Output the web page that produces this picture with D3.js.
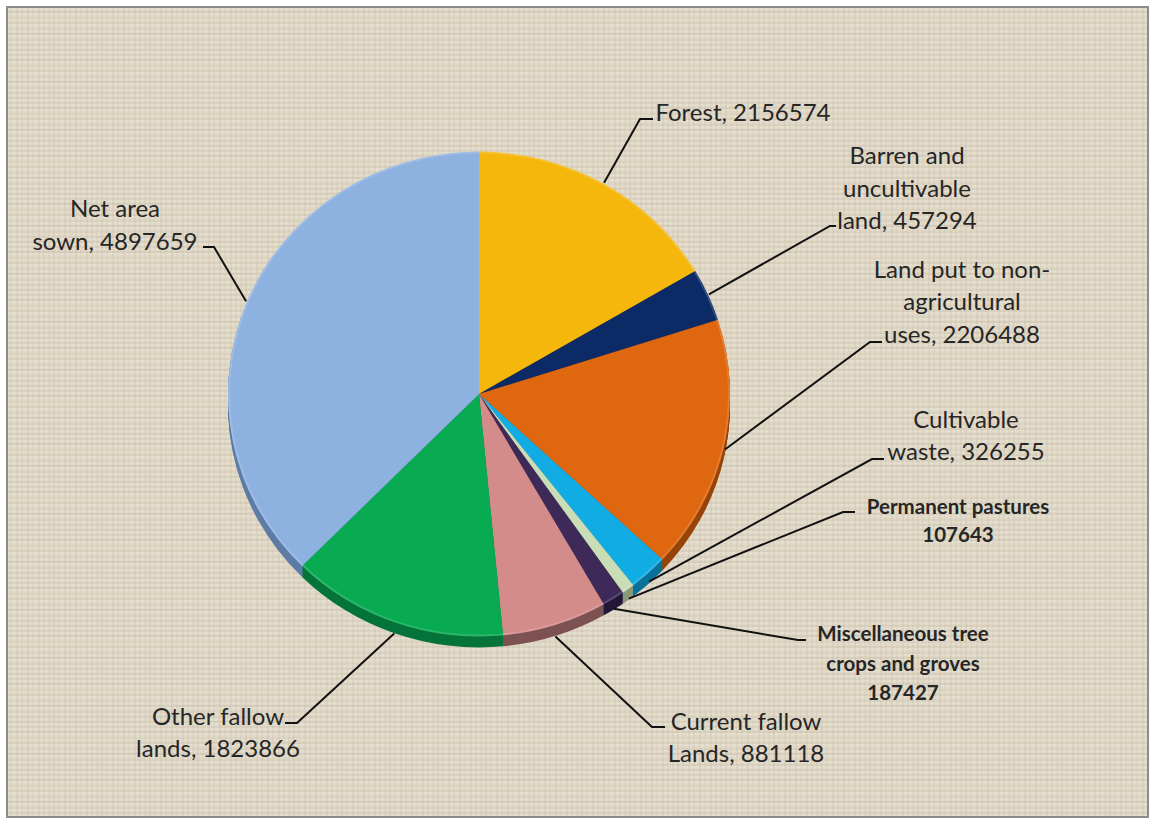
<!DOCTYPE html>
<html lang="en">
<head>
<meta charset="UTF-8">
<title>Land use pie</title>
<script src="https://d3js.org/d3.v7.min.js"></script>
<style>
  body { margin: 0; background: #ffffff; }
  svg text { font-family: "Lato", "Open Sans", sans-serif; fill: #262626; }
</style>
</head>
<body>
<script>
// categories and values, clockwise from 12 o'clock
var categories = ["Forest", "Barren and uncultivable land", "Land put to non-agricultural uses",
  "Cultivable waste", "Permanent pastures", "Miscellaneous tree crops and groves",
  "Current fallow Lands", "Other fallow lands", "Net area sown"];
var values = [2156574, 457294, 2206488, 326255, 107643, 187427, 881118, 1823866, 4897659];
var colors = ["#F5B70C", "#0C2B66", "#DF670F", "#12ACE5", "#C9DDB6", "#3D2A58", "#D48C8B", "#08AB51", "#8EB2E0"];
var sideColors = ["#A67C06", "#061A40", "#97450A", "#0B7299", "#8A987C", "#24183A", "#7E5252", "#05743A", "#5E7DA6"];

// label text lines
var labelLines = [
  ["Forest, 2156574"],
  ["Barren and", "uncultivable", "land, 457294"],
  ["Land put to non-", "agricultural", "uses, 2206488"],
  ["Cultivable", "waste, 326255"],
  ["Permanent pastures", "107643"],
  ["Miscellaneous tree", "crops and groves", "187427"],
  ["Current fallow", "Lands, 881118"],
  ["Other fallow", "lands, 1823866"],
  ["Net area", "sown, 4897659"]
];

// label layout (center x, line centers y, leader elbow, leader end)
var labelLayout = [
  {cx: 743, ys: [111], elbow: [640, 119], end: [653, 119]},
  {cx: 907, ys: [154, 187, 219], elbow: [830, 226], end: [836, 226]},
  {cx: 962, ys: [268, 300, 333], elbow: [870, 342], end: [882, 342]},
  {cx: 966, ys: [418, 450], elbow: [872, 459], end: [884, 459]},
  {cx: 958, ys: [506, 534], elbow: [843, 512], end: [855, 512], bold: true},
  {cx: 903, ys: [633, 663, 692], elbow: [798, 640], end: [806, 640], bold: true},
  {cx: 746, ys: [720, 752], elbow: [652, 727], end: [665, 727]},
  {cx: 218, ys: [715, 747], elbow: [297, 723], end: [285, 723]},
  {cx: 115, ys: [207, 240], elbow: [214, 247], end: [203, 247]}
];

var w = 1150, h = 820;
var cx = 479, cy = 394, r = 251, squash = 0.966, depth = 11;

var svg = d3.select("body").append("svg")
  .attr("width", w).attr("height", h);

// linen background
var defs = svg.append("defs");
var pat = defs.append("pattern").attr("id", "linen")
  .attr("width", 48).attr("height", 48).attr("patternUnits", "userSpaceOnUse");
pat.append("rect").attr("width", 48).attr("height", 48).attr("fill", "#E1D9C8");
var hLines = [[2, 0.5], [7, 0.35], [12, 0.55], [18, 0.3], [23, 0.5], [29, 0.4], [34, 0.55], [40, 0.3], [45, 0.45]];
var vLines = [[1, 0.4], [6, 0.55], [11, 0.3], [17, 0.5], [22, 0.35], [28, 0.55], [33, 0.3], [39, 0.5], [44, 0.4]];
hLines.forEach(function(l) {
  pat.append("line").attr("x1", 0).attr("x2", 48).attr("y1", l[0]).attr("y2", l[0])
    .attr("stroke", "#BDB29D").attr("stroke-width", 1).attr("opacity", l[1]);
  pat.append("line").attr("x1", 0).attr("x2", 48).attr("y1", l[0] + 2).attr("y2", l[0] + 2)
    .attr("stroke", "#F1ECE0").attr("stroke-width", 1).attr("opacity", l[1]);
});
vLines.forEach(function(l) {
  pat.append("line").attr("y1", 0).attr("y2", 48).attr("x1", l[0]).attr("x2", l[0])
    .attr("stroke", "#C2B7A3").attr("stroke-width", 1).attr("opacity", l[1]);
});

svg.append("rect").attr("x", 7).attr("y", 7).attr("width", w - 9).attr("height", 810)
  .attr("fill", "url(#linen)").attr("stroke", "#8C8C8C").attr("stroke-width", 2);

// pie
var pie = d3.pie().sort(null).value(function(d) { return d; });
var arcs = pie(values);
var arc = d3.arc().innerRadius(0).outerRadius(r);

// 3D side: darker copy shifted down
for (var k = depth; k > 0; k -= 1) {
  svg.append("g")
    .attr("transform", "translate(" + cx + "," + (cy + k) + ") scale(1," + squash + ")")
    .selectAll("path").data(arcs).enter().append("path")
    .attr("d", arc)
    .attr("fill", function(d, i) { return sideColors[i]; });
}

var pieTop = svg.append("g")
  .attr("transform", "translate(" + cx + "," + cy + ") scale(1," + squash + ")");
pieTop.selectAll("path").data(arcs).enter().append("path")
  .attr("d", arc)
  .attr("fill", function(d, i) { return colors[i]; });

// thin light rim
pieTop.append("circle").attr("r", r - 1).attr("fill", "none")
  .attr("stroke", "#ffffff").attr("stroke-opacity", 0.15).attr("stroke-width", 2);

// leader lines
arcs.forEach(function(d, i) {
  var a = (d.startAngle + d.endAngle) / 2;
  var sx = cx + (r + 1) * Math.sin(a);
  var sy = cy - (r + 1) * squash * Math.cos(a);
  if (Math.cos(a) < 0) sy += depth * (-Math.cos(a));
  var L = labelLayout[i];
  svg.append("path")
    .attr("d", d3.line()([[sx, sy], L.elbow, L.end]))
    .attr("fill", "none").attr("stroke", "#111111").attr("stroke-width", 2);
});

// labels
labelLines.forEach(function(lines, i) {
  var L = labelLayout[i];
  var t = svg.append("text")
    .attr("text-anchor", "middle")
    .attr("font-size", L.bold ? "20.5px" : "24px")
    .attr("font-weight", L.bold ? "bold" : "normal");
  lines.forEach(function(s, j) {
    t.append("tspan").attr("x", L.cx).attr("y", L.ys[j])
      .attr("dominant-baseline", "central").text(s);
  });
});
</script>
</body>
</html>
